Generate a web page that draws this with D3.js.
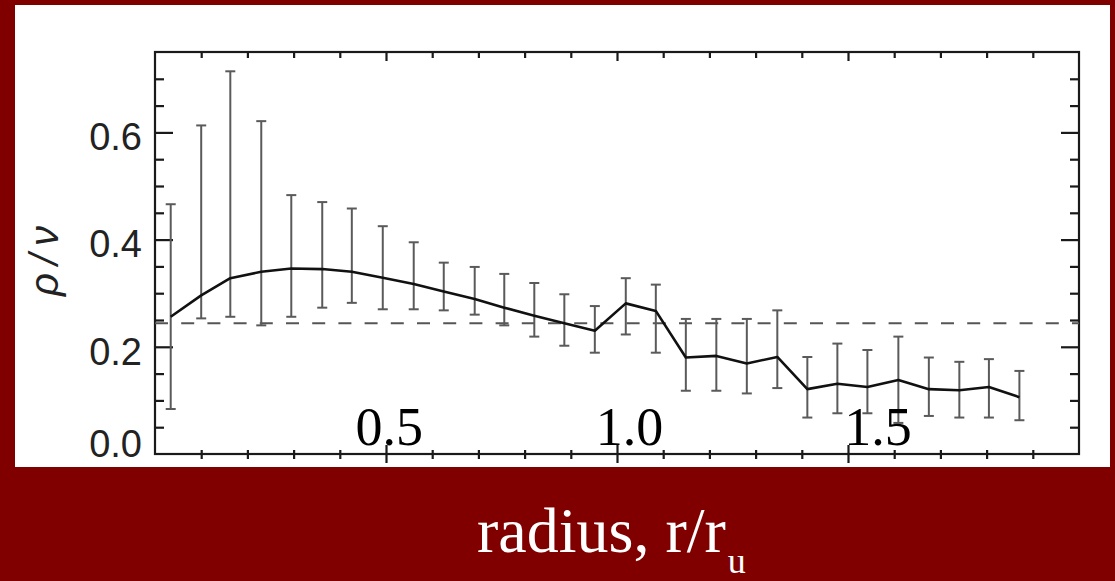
<!DOCTYPE html>
<html>
<head>
<meta charset="utf-8">
<script src="https://cdn.jsdelivr.net/npm/d3@7"></script>
<style>
  html, body { margin: 0; padding: 0; background: #800000; }
  svg { display: block; }
</style>
</head>
<body>
<svg id="chart" width="1115" height="581"></svg>
<script>
// ---- data ----
const radius = [0.034, 0.100, 0.163, 0.230, 0.295, 0.362, 0.426, 0.493, 0.560, 0.625,
                0.692, 0.756, 0.821, 0.886, 0.952, 1.019, 1.084, 1.149, 1.215, 1.281,
                1.347, 1.412, 1.477, 1.542, 1.609, 1.675, 1.741, 1.805, 1.871];
const ratio = [0.256, 0.296, 0.328, 0.340, 0.346, 0.345, 0.340, 0.329, 0.317, 0.303,
               0.289, 0.273, 0.258, 0.244, 0.230, 0.281, 0.267, 0.180, 0.183, 0.169,
               0.181, 0.121, 0.131, 0.125, 0.138, 0.121, 0.119, 0.125, 0.106];
const upper = [0.466, 0.613, 0.714, 0.621, 0.483, 0.470, 0.458, 0.425, 0.395, 0.357,
               0.349, 0.336, 0.319, 0.298, 0.276, 0.328, 0.316, 0.252, 0.252, 0.252,
               0.268, 0.181, 0.206, 0.194, 0.219, 0.180, 0.172, 0.177, 0.155];
const lower = [0.084, 0.253, 0.256, 0.240, 0.256, 0.273, 0.282, 0.270, 0.270, 0.268,
               0.260, 0.240, 0.219, 0.202, 0.189, 0.223, 0.189, 0.118, 0.118, 0.113,
               0.123, 0.068, 0.076, 0.076, 0.058, 0.071, 0.068, 0.068, 0.063];
const referenceLevel = 0.244;

const xDomain = [0, 2.0];
const yDomain = [0, 0.75];
const xMajorTicks = [0.5, 1.0, 1.5];
const xMinorTicks = [0.1, 0.2, 0.3, 0.4, 0.6, 0.7, 0.8, 0.9, 1.1, 1.2, 1.3, 1.4, 1.6, 1.7, 1.8, 1.9];
const xTickLabels = ["0.5", "1.0", "1.5"];
const xTickLabelAt = [0.507, 1.027, 1.565];
const yMajorTicks = [0.2, 0.4, 0.6];
const yMinorTicks = [0.05, 0.1, 0.15, 0.25, 0.3, 0.35, 0.45, 0.5, 0.55, 0.65, 0.7];
const yTickLabels = ["0.0", "0.2", "0.4", "0.6"];
const yTickLabelAt = [0.028, 0.2, 0.4, 0.6];
const xTitle = "radius, r/r";
const xTitleSub = "u";
const yTitle = "ρ/ν";

// ---- layout ----
const svg = d3.select("#chart");
const panel = {x0: 15, y0: 5, x1: 1110, y1: 467};
const plot = {left: 155, top: 52, right: 1079, bottom: 454};

svg.append("rect").attr("x", 0).attr("y", 0).attr("width", 1115).attr("height", 581).attr("fill", "#800000");
svg.append("rect").attr("x", panel.x0).attr("y", panel.y0)
   .attr("width", panel.x1 - panel.x0).attr("height", panel.y1 - panel.y0).attr("fill", "#ffffff");

const x = d3.scaleLinear().domain(xDomain).range([plot.left, plot.right]);
const y = d3.scaleLinear().domain(yDomain).range([plot.bottom, plot.top]);

const axisColor = "#1a1a1a";

function styleAxis(g) {
  g.select(".domain").remove();
  g.selectAll(".tick line").attr("stroke", axisColor).attr("stroke-width", 2.2);
  g.selectAll(".tick text").remove();
}
// left
svg.append("g").attr("transform", `translate(${plot.left},0)`)
  .call(d3.axisLeft(y).tickValues(yMajorTicks).tickSize(-18)).call(styleAxis);
svg.append("g").attr("transform", `translate(${plot.left},0)`)
  .call(d3.axisLeft(y).tickValues(yMinorTicks).tickSize(-9)).call(styleAxis);
// right
svg.append("g").attr("transform", `translate(${plot.right},0)`)
  .call(d3.axisRight(y).tickValues(yMajorTicks).tickSize(-18)).call(styleAxis);
svg.append("g").attr("transform", `translate(${plot.right},0)`)
  .call(d3.axisRight(y).tickValues(yMinorTicks).tickSize(-9)).call(styleAxis);
// top
svg.append("g").attr("transform", `translate(0,${plot.top})`)
  .call(d3.axisTop(x).tickValues(xMajorTicks).tickSize(-9)).call(styleAxis);
svg.append("g").attr("transform", `translate(0,${plot.top})`)
  .call(d3.axisTop(x).tickValues(xMinorTicks).tickSize(-6)).call(styleAxis);
// bottom (ticks crossing the axis)
svg.append("g").attr("transform", `translate(0,${plot.bottom - 9})`)
  .call(d3.axisBottom(x).tickValues(xMajorTicks).tickSize(18)).call(styleAxis);
svg.append("g").attr("transform", `translate(0,${plot.bottom - 4})`)
  .call(d3.axisBottom(x).tickValues(xMinorTicks).tickSize(9)).call(styleAxis);

// frame
svg.append("rect").attr("x", plot.left).attr("y", plot.top)
  .attr("width", plot.right - plot.left).attr("height", plot.bottom - plot.top)
  .attr("fill", "none").attr("stroke", axisColor).attr("stroke-width", 2.2);

// dashed reference line
svg.append("line")
  .attr("x1", x(xDomain[0])).attr("x2", x(xDomain[1]))
  .attr("y1", y(referenceLevel)).attr("y2", y(referenceLevel))
  .attr("stroke", "#555").attr("stroke-width", 2).attr("stroke-dasharray", "13 13.2");

// error bars
const barColor = "#5a5a5a";
const eb = svg.append("g").attr("stroke", barColor).attr("stroke-width", 2).attr("fill", "none");
radius.forEach((r, i) => {
  eb.append("line").attr("x1", x(r)).attr("x2", x(r)).attr("y1", y(upper[i])).attr("y2", y(lower[i]));
  eb.append("line").attr("x1", x(r) - 5).attr("x2", x(r) + 5).attr("y1", y(upper[i])).attr("y2", y(upper[i]));
  eb.append("line").attr("x1", x(r) - 5).attr("x2", x(r) + 5).attr("y1", y(lower[i])).attr("y2", y(lower[i]));
});

// main line
const lineGen = d3.line().x((d, i) => x(radius[i])).y(d => y(d)).curve(d3.curveLinear);
svg.append("path").datum(ratio).attr("d", lineGen)
  .attr("fill", "none").attr("stroke", "#111").attr("stroke-width", 2.6).attr("stroke-linejoin", "round");

// y tick labels
svg.append("g").selectAll("text").data(yTickLabels).join("text")
  .attr("x", plot.left - 13).attr("y", (d, i) => y(yTickLabelAt[i]))
  .attr("dy", "0.47em")
  .attr("text-anchor", "end")
  .attr("font-family", "Liberation Sans, Arial, sans-serif")
  .attr("font-size", 38).attr("fill", "#222")
  .text(d => d);

// x tick labels (serif, overlaid on plot)
svg.append("g").selectAll("text").data(xTickLabels).join("text")
  .attr("x", (d, i) => x(xTickLabelAt[i])).attr("y", plot.bottom - 9)
  .attr("text-anchor", "middle")
  .attr("font-family", "Liberation Serif, Times New Roman, serif")
  .attr("font-size", 54).attr("fill", "#000")
  .text(d => d);

// y title
svg.append("text")
  .attr("transform", `translate(58, 257) rotate(-90)`)
  .attr("text-anchor", "middle")
  .attr("font-family", "Liberation Sans, Arial, sans-serif")
  .attr("font-style", "italic")
  .attr("font-size", 40).attr("letter-spacing", 8).attr("fill", "#222")
  .text(yTitle);

// x title (white, on red)
const xt = svg.append("text")
  .attr("x", 477).attr("y", 552)
  .attr("font-family", "Liberation Serif, Times New Roman, serif")
  .attr("font-size", 64).attr("fill", "#ffffff");
xt.append("tspan").text(xTitle);
xt.append("tspan").attr("font-size", 36).attr("dx", 2).attr("dy", 21).text(xTitleSub);
</script>
</body>
</html>
